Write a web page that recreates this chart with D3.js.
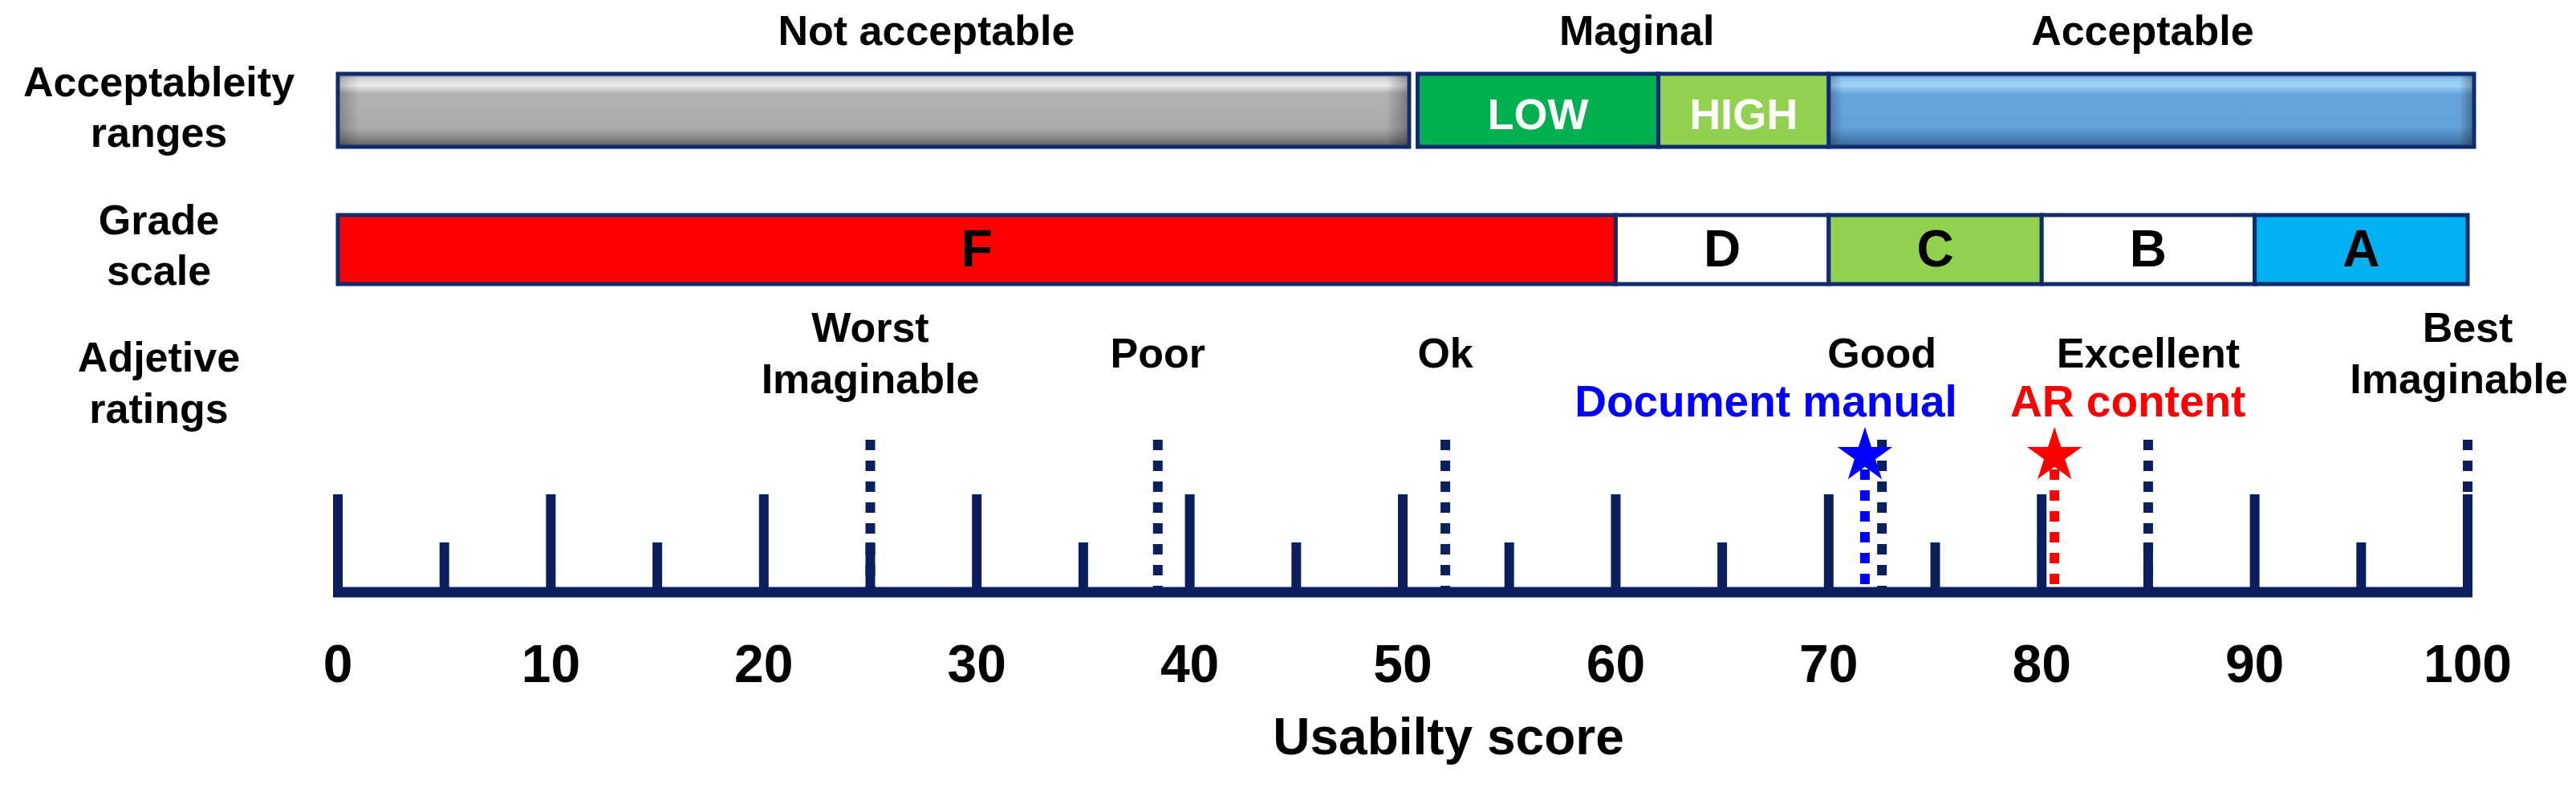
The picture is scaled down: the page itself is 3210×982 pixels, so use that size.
<!DOCTYPE html>
<html>
<head>
<meta charset="utf-8">
<script src="https://cdnjs.cloudflare.com/ajax/libs/d3/7.8.5/d3.min.js"></script>
<style>
  body { margin: 0; background: #fff; }
  svg text { font-family: "Liberation Sans", Arial, sans-serif; font-weight: bold; }
</style>
</head>
<body>
<svg id="chart"></svg>
<script>
// ---- values ----
var majorTicks = [0, 10, 20, 30, 40, 50, 60, 70, 80, 90, 100];
var minorTicks = [5, 15, 25, 35, 45, 55, 65, 75, 85, 95];
var tickLabels = ["0", "10", "20", "30", "40", "50", "60", "70", "80", "90", "100"];

var rowLabels = [["Acceptableity", "ranges"], ["Grade", "scale"], ["Adjetive", "ratings"]];

var rangeGroups = ["Not acceptable", "Maginal", "Acceptable"];
var rangeGroupFrom = [0, 50.7, 70];
var rangeGroupTo = [50.3, 70, 100.3];

var rangeParts = ["", "LOW", "HIGH", ""];
var rangePartFrom = [0, 50.7, 62, 70];
var rangePartTo = [50.3, 62, 70, 100.3];

var grades = ["F", "D", "C", "B", "A"];
var gradeFrom = [0, 60, 70, 80, 90];
var gradeTo = [60, 70, 80, 90, 100];

var adjectives = [["Worst", "Imaginable"], ["Poor"], ["Ok"], ["Good"], ["Excellent"], ["Best", "Imaginable"]];
var adjectiveScores = [25, 38.5, 52, 72.5, 85, 100];

var products = ["Document manual", "AR content"];
var productScores = [71.7, 80.6];

// ---- look ----
var width = 3210, height = 982;
var navy = "#0b1f5e";
var borderCol = "#102c6c";
var rangeFills = ["url(#greyBevel)", "#00b050", "#92d050", "url(#blueBevel)"];
var gradeFills = ["#ff0000", "#ffffff", "#92d050", "#ffffff", "#00b0f0"];
var productCols = ["#0000ff", "#ff0000"];
var groupLabelShift = [66, 17, -11];
var productAnchor = ["end", "start"];
var productShift = [115, -55];

var svg = d3.select("#chart")
    .attr("width", width)
    .attr("height", height);

svg.append("rect").attr("width", width).attr("height", height).attr("fill", "#fff");

var x = d3.scaleLinear().domain([0, 100]).range([421, 3075]);

// gradients for the bevelled bars
var defs = svg.append("defs");
function vGrad(id, stops) {
    var g = defs.append("linearGradient").attr("id", id)
        .attr("x1", 0).attr("y1", 0).attr("x2", 0).attr("y2", 1);
    stops.forEach(function(s) {
        g.append("stop").attr("offset", s[0]).attr("stop-color", s[1]);
    });
}
vGrad("greyBevel", [[0, "#808080"], [0.06, "#d4d4d4"], [0.16, "#ececec"], [0.27, "#b3b3b3"],
                    [0.74, "#ababab"], [0.88, "#878787"], [1, "#5c5c5c"]]);
vGrad("blueBevel", [[0, "#4a7db5"], [0.06, "#8ac2ee"], [0.16, "#a0d4f8"], [0.28, "#67a4de"],
                    [0.74, "#62a0da"], [0.88, "#4c80b6"], [1, "#3a6797"]]);
var side = defs.append("linearGradient").attr("id", "sideShade")
    .attr("x1", 0).attr("y1", 0).attr("x2", 1).attr("y2", 0);
[[0, 0.22], [0.018, 0], [0.98, 0], [1, 0.3]].forEach(function(s) {
    side.append("stop").attr("offset", s[0]).attr("stop-color", "#000").attr("stop-opacity", s[1]);
});

// row labels on the left
var rowBase = [[120, 183], [292, 355], [463, 527]];
rowLabels.forEach(function(lines, i) {
    lines.forEach(function(t, j) {
        svg.append("text")
            .attr("x", 198).attr("y", rowBase[i][j])
            .attr("text-anchor", "middle")
            .attr("font-size", 52)
            .text(t);
    });
});

// acceptability range labels above the bars
rangeGroups.forEach(function(t, i) {
    svg.append("text")
        .attr("x", x((rangeGroupFrom[i] + rangeGroupTo[i]) / 2) + groupLabelShift[i])
        .attr("y", 56)
        .attr("text-anchor", "middle")
        .attr("font-size", 52)
        .text(t);
});

// acceptability bars
var barY = 92, barH = 91;
rangeParts.forEach(function(t, i) {
    var x0 = x(rangePartFrom[i]), x1 = x(rangePartTo[i]);
    svg.append("rect")
        .attr("x", x0).attr("y", barY)
        .attr("width", x1 - x0).attr("height", barH)
        .attr("fill", rangeFills[i])
        .attr("stroke", borderCol).attr("stroke-width", 5);
    if (rangeFills[i].indexOf("url") === 0) {
        svg.append("rect")
            .attr("x", x0 + 2.5).attr("y", barY + 2.5)
            .attr("width", x1 - x0 - 5).attr("height", barH - 5)
            .attr("fill", "url(#sideShade)");
    }
    if (t) {
        svg.append("text")
            .attr("x", x((rangePartFrom[i] + rangePartTo[i]) / 2))
            .attr("y", 161)
            .attr("text-anchor", "middle")
            .attr("font-size", 54)
            .attr("fill", "#fff")
            .text(t);
    }
});

// grade scale bar
var gY = 268, gH = 86;
grades.forEach(function(t, i) {
    var x0 = x(gradeFrom[i]), x1 = x(gradeTo[i]);
    svg.append("rect")
        .attr("x", x0).attr("y", gY)
        .attr("width", x1 - x0).attr("height", gH)
        .attr("fill", gradeFills[i])
        .attr("stroke", borderCol).attr("stroke-width", 5);
    svg.append("text")
        .attr("x", (x0 + x1) / 2).attr("y", 332)
        .attr("text-anchor", "middle")
        .attr("font-size", 64)
        .text(t);
});

// adjective labels and dashed markers
var baseY = 738;
adjectives.forEach(function(lines, i) {
    var base = lines.length === 1 ? [458] : [426, 490];
    lines.forEach(function(t, j) {
        var txt = svg.append("text")
            .attr("y", base[j])
            .attr("text-anchor", "middle")
            .attr("font-size", 52)
            .text(t);
        var w = txt.node().getComputedTextLength();
        var cx = Math.min(x(adjectiveScores[i]), width - 10 - w / 2);
        txt.attr("x", cx);
    });
});

svg.selectAll(".adjLine")
    .data(adjectiveScores)
    .enter().append("line")
    .attr("class", "adjLine")
    .attr("x1", function(d) { return x(d); })
    .attr("x2", function(d) { return x(d); })
    .attr("y1", 548).attr("y2", baseY)
    .attr("stroke", navy).attr("stroke-width", 12)
    .attr("stroke-dasharray", "13,13");

// ticks
svg.selectAll(".major")
    .data(majorTicks)
    .enter().append("line")
    .attr("class", "major")
    .attr("x1", function(d) { return x(d); })
    .attr("x2", function(d) { return x(d); })
    .attr("y1", 616).attr("y2", baseY)
    .attr("stroke", navy).attr("stroke-width", 12);

svg.selectAll(".minor")
    .data(minorTicks)
    .enter().append("line")
    .attr("class", "minor")
    .attr("x1", function(d) { return x(d); })
    .attr("x2", function(d) { return x(d); })
    .attr("y1", 676).attr("y2", baseY)
    .attr("stroke", navy).attr("stroke-width", 12);

// base line
svg.append("line")
    .attr("x1", x(0) - 6).attr("x2", x(100) + 6)
    .attr("y1", baseY).attr("y2", baseY)
    .attr("stroke", navy).attr("stroke-width", 13);

// products: dashed line + star + label
products.forEach(function(p, i) {
    var px = x(productScores[i]);
    svg.append("line")
        .attr("x1", px).attr("x2", px)
        .attr("y1", 585).attr("y2", baseY - 6)
        .attr("stroke", productCols[i]).attr("stroke-width", 12)
        .attr("stroke-dasharray", "13,13");
    svg.append("path")
        .attr("d", d3.symbol().type(d3.symbolStar).size(1455)())
        .attr("transform", "translate(" + px + ",568)")
        .attr("fill", productCols[i]);
    svg.append("text")
        .attr("x", px + productShift[i]).attr("y", 519)
        .attr("text-anchor", productAnchor[i])
        .attr("font-size", 55)
        .attr("fill", productCols[i])
        .text(p);
});

// tick labels
svg.selectAll(".tickLabel")
    .data(majorTicks)
    .enter().append("text")
    .attr("class", "tickLabel")
    .attr("x", function(d) { return x(d); })
    .attr("y", 850)
    .attr("text-anchor", "middle")
    .attr("font-size", 66)
    .text(function(d, i) { return tickLabels[i]; });

// axis title
svg.append("text")
    .attr("x", (x(0) + x(100)) / 2 + 57)
    .attr("y", 940)
    .attr("text-anchor", "middle")
    .attr("font-size", 64)
    .text("Usabilty score");
</script>
</body>
</html>
